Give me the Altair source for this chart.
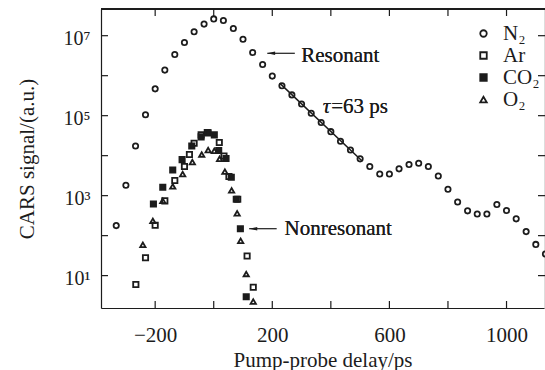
import altair as alt
import pandas as pd

# ---------------- data ----------------
series_order = ["N₂", "Ar", "CO₂", "O₂"]

n2_delay = [-333, -300, -267, -233, -200, -167, -133, -100, -67, -33, 0, 33, 67, 100, 133,
            167, 200, 233, 267, 300, 333, 367, 400, 433, 467, 500, 533, 567, 600, 633,
            667, 700, 733, 767, 800, 833, 867, 900, 933, 967, 1000, 1033, 1067, 1100, 1133]
n2_signal = [178, 1820, 17400, 105000, 468000, 1.38e6, 3.39e6, 6.76e6, 1.26e7, 1.95e7,
             2.63e7, 2.40e7, 1.51e7, 8.13e6, 3.80e6, 1.91e6, 9.77e5, 5.62e5, 3.31e5, 1.95e5,
             1.15e5, 6.76e4, 3.98e4, 2.29e4, 1.38e4, 8.32e3, 5.37e3, 3.47e3, 3.47e3, 4.68e3,
             6.03e3, 6.46e3, 5.37e3, 3.09e3, 1.45e3, 692, 417, 347, 347, 603,
             427, 263, 126, 60.3, 34.7]

ar_delay = [-266, -233, -200, -167, -133, -100, -83, -67, -43, -22, 19, 35, 52, 82, 114, 135]
ar_signal = [6.0, 28, 182, 741, 2400, 5370, 10700, 20400, 33100, 38000, 21400, 9770, 3020,
             813, 30.9, 5.1]

co2_delay = [-206, -174, -140, -108, -75, -43, -19, 2, 17, 42, 60, 77, 91, 111]
co2_signal = [617, 1620, 4370, 7940, 17400, 29500, 37200, 33100, 13500, 8510, 2880, 813,
              148, 2.95]

o2_delay = [-242, -208, -174, -140, -106, -73, -41, -19, 2, 20, 38, 61, 80, 92, 111, 135]
o2_signal = [58.9, 234, 741, 1700, 3470, 6920, 10700, 13800, 13200, 8320, 3980, 1350, 363,
             74.1, 11.0, 2.24]

# exponential fit (tau = 63 ps) drawn through the N2 decay
fit_delay = [225, 505]
fit_signal = [6.5e5, 7.6e3]

# axis ticks
x_tick_values = [-200, 0, 200, 400, 600, 800, 1000]
x_label_values = [-200, 200, 600, 1000]
y_tick_values = [10, 100, 1e3, 1e4, 1e5, 1e6, 1e7]
y_label_values = [10, 1e3, 1e5, 1e7]

# annotation arrows (data coordinates)
arrow_from = [277, 215]
arrow_to = [183, 121]
arrow_head = [196, 135]
arrow_level = [3.63e6, 149]

# ---------------- chart ----------------
rows = []
for name, xs_, ys_ in [("N₂", n2_delay, n2_signal), ("Ar", ar_delay, ar_signal),
                       ("CO₂", co2_delay, co2_signal), ("O₂", o2_delay, o2_signal)]:
    for a, b in zip(xs_, ys_):
        rows.append({"delay": a, "signal": b, "series": name})
df = pd.DataFrame(rows)
fit_df = pd.DataFrame({"delay": fit_delay, "signal": fit_signal})
arrow_df = pd.DataFrame({"x": arrow_to, "x2": arrow_from, "hx": arrow_head, "y": arrow_level})
xt_df = pd.DataFrame({"t": x_tick_values})
yt_df = pd.DataFrame({"t": y_tick_values})

W, H = 443, 299
FONT = "Liberation Serif"
INK = "#1c1c1c"
FS = 21
TICK = 7

xsc = alt.Scale(domain=[-385, 1128], nice=False, zero=False)
ysc = alt.Scale(type="log", domain=[1.55, 4.65e7], nice=False)

shape_range = ["circle", "square", "square", "triangle-up"]
fill_range = ["transparent", "transparent", INK, "transparent"]
stroke_range = [INK, INK, INK, INK]

leg = alt.Legend(title=None, orient="none", legendX=372, legendY=14,
                 symbolSize=42, symbolStrokeWidth=1.8, symbolStrokeColor=INK,
                 labelFont=FONT, labelFontSize=FS, labelColor=INK, labelOffset=9,
                 rowPadding=0, padding=0, symbolOffset=0)

y_label_expr = ("datum.value == 10 ? '10¹' : datum.value == 1000 ? '10³' : "
                "datum.value == 100000 ? '10⁵' : '10⁷'")

points = alt.Chart(df).mark_point(size=28, strokeWidth=1.8, opacity=1).encode(
    x=alt.X("delay:Q", scale=xsc,
            axis=alt.Axis(orient="bottom", values=x_label_values, format="d", ticks=False,
                          tickSize=0, domain=True, domainColor=INK, domainWidth=1.2,
                          grid=False, labelFont=FONT, labelFontSize=FS, labelColor=INK,
                          labelPadding=16, title="Pump-probe delay/ps", titleFont=FONT,
                          titleFontSize=FS, titleFontWeight="normal", titleColor=INK,
                          titlePadding=4)),
    y=alt.Y("signal:Q", scale=ysc,
            axis=alt.Axis(orient="left", values=y_label_values, labelExpr=y_label_expr,
                          ticks=False, tickSize=0, domain=True, domainColor=INK,
                          domainWidth=1.2, grid=False, labelFont=FONT, labelFontSize=20,
                          labelColor=INK, labelPadding=11, labelOffset=3,
                          title="CARS signal/(a.u.)", titleFont=FONT, titleFontSize=FS,
                          titleFontWeight="normal", titleColor=INK, titlePadding=26)),
    shape=alt.Shape("series:N", scale=alt.Scale(domain=series_order, range=shape_range),
                    legend=leg),
    fill=alt.Fill("series:N", scale=alt.Scale(domain=series_order, range=fill_range),
                  legend=leg),
    stroke=alt.Stroke("series:N", scale=alt.Scale(domain=series_order, range=stroke_range),
                      legend=leg),
)

fit = alt.Chart(fit_df).mark_line(color=INK, strokeWidth=1.5).encode(
    x=alt.X("delay:Q", scale=xsc, axis=None),
    y=alt.Y("signal:Q", scale=ysc, axis=None),
)

# frame top line
top_line = alt.Chart(xt_df).mark_rule(color=INK, strokeWidth=1.2).encode(
    x=alt.value(0), x2=alt.value(W + 2), y=alt.value(0))

# inward ticks on all four sides (positions through the scales)
tick_bottom = alt.Chart(xt_df).mark_rule(color=INK, strokeWidth=1.2).encode(
    x=alt.X("t:Q", scale=xsc, axis=None), y=alt.value(H), y2=alt.value(H - TICK))
tick_top = alt.Chart(xt_df).mark_rule(color=INK, strokeWidth=1.2).encode(
    x=alt.X("t:Q", scale=xsc, axis=None), y=alt.value(0), y2=alt.value(TICK))
tick_left = alt.Chart(yt_df).mark_rule(color=INK, strokeWidth=1.2).encode(
    y=alt.Y("t:Q", scale=ysc, axis=None), x=alt.value(0), x2=alt.value(TICK))
tick_right = alt.Chart(yt_df).mark_rule(color=INK, strokeWidth=1.2).encode(
    y=alt.Y("t:Q", scale=ysc, axis=None), x=alt.value(W + 1), x2=alt.value(W + 1 - TICK))

arrows = alt.Chart(arrow_df).mark_rule(color=INK, strokeWidth=1.2).encode(
    x=alt.X("x:Q", scale=xsc, axis=None),
    x2="x2:Q",
    y=alt.Y("y:Q", scale=ysc, axis=None),
)

heads = alt.Chart(arrow_df).mark_point(shape="M-1,0L1,-0.42L1,0.42Z", filled=True,
                                       size=64, color=INK, opacity=1).encode(
    x=alt.X("hx:Q", scale=xsc, axis=None),
    y=alt.Y("y:Q", scale=ysc, axis=None),
)

def label(txt, xv, yv, style="normal"):
    return alt.Chart(fit_df).mark_text(text=txt, align="left", baseline="alphabetic",
                                       font=FONT, fontSize=FS, fontStyle=style,
                                       color=INK).encode(
        x=alt.X(datum=xv, scale=xsc, axis=None),
        y=alt.Y(datum=yv, scale=ysc, axis=None),
    )

texts = [
    label("Resonant", 299, 2.24e6),
    label("Nonresonant", 242, 104),
    label("τ", 372, 1.15e5, "italic"),
    label("=63 ps", 401, 1.15e5),
]

chart = alt.layer(points, fit, top_line, tick_bottom, tick_top, tick_left, tick_right,
                  arrows, heads, *texts).resolve_axis(
    x="independent", y="independent"
).properties(
    width=W, height=H,
    padding={"left": 101, "top": 9, "right": 1, "bottom": 62},
    autosize=alt.AutoSizeParams(type="none"),
).configure_view(strokeWidth=0).configure(background="white")

chart.save("out.html", embed_options={"renderer": "svg", "actions": False})
